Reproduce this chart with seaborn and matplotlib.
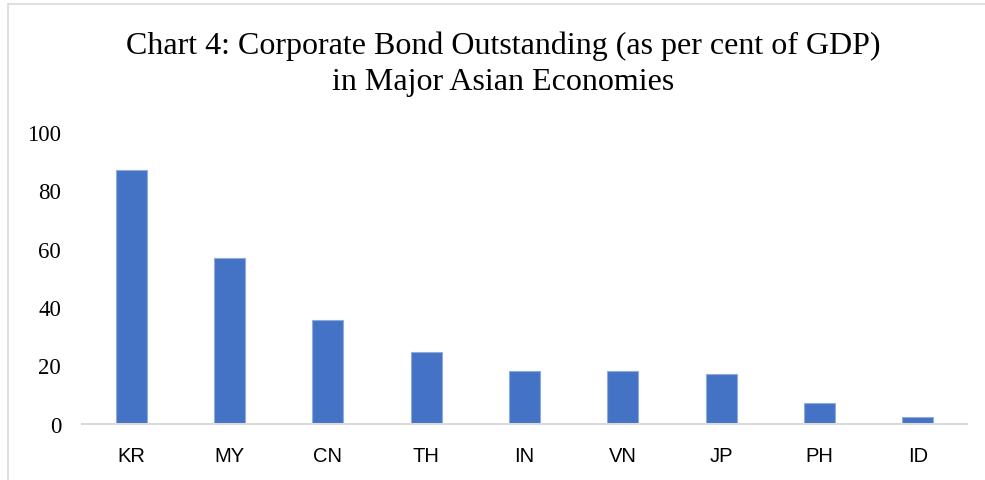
import matplotlib
matplotlib.use("Agg")
import matplotlib.pyplot as plt
import seaborn as sns
import pandas as pd

# Data
countries = ["KR", "MY", "CN", "TH", "IN", "VN", "JP", "PH", "ID"]
bond_pct_gdp = [87.0, 56.8, 35.5, 24.7, 18.0, 18.0, 17.2, 7.0, 2.3]
y_ticks = [0, 20, 40, 60, 80, 100]

df = pd.DataFrame({"country": countries, "value": bond_pct_gdp})

sns.set_style("white")

fig = plt.figure(figsize=(9.85, 4.81), dpi=100)
ax = fig.add_axes([82 / 985, 1 - 424.7 / 481, 885 / 985, (424.7 - 133) / 481])

sns.barplot(data=df, x="country", y="value", color="#4472C4", width=0.315,
            edgecolor="#8FAADC", linewidth=0.8, saturation=1, ax=ax)

ax.set_ylim(0, 100)
ax.set_xlim(-0.5, len(countries) - 0.5)
ax.set_yticks(y_ticks)
ax.set_yticklabels([str(t) for t in y_ticks], family="Liberation Serif", fontsize=16.5)
ax.set_xticks(range(len(countries)))
ax.set_xticklabels(countries, family="Liberation Sans", fontsize=14.5)
ax.tick_params(axis="y", length=0, pad=15, labelcolor="black")
ax.tick_params(axis="x", length=0, pad=16, labelcolor="black")
ax.set_xlabel("")
ax.set_ylabel("")

for side in ["top", "right", "left"]:
    ax.spines[side].set_visible(False)
ax.spines["bottom"].set_color("#D9D9D9")
ax.spines["bottom"].set_linewidth(1.5)

fig.text(503 / 985, 1 - 64 / 481,
         "Chart 4: Corporate Bond Outstanding (as per cent of GDP)\nin Major Asian Economies",
         ha="center", va="center", family="Liberation Serif", fontsize=23,
         linespacing=1.3, color="black")

# chart frame edges visible in the reference
fig.add_artist(plt.Line2D([8 / 985, 8 / 985], [0, 1 - 5 / 481], color="#D9D9D9", lw=1.2))
fig.add_artist(plt.Line2D([8 / 985, 1], [1 - 5 / 481, 1 - 5 / 481], color="#D9D9D9", lw=1.2))

fig.savefig("out.png", dpi=100)
